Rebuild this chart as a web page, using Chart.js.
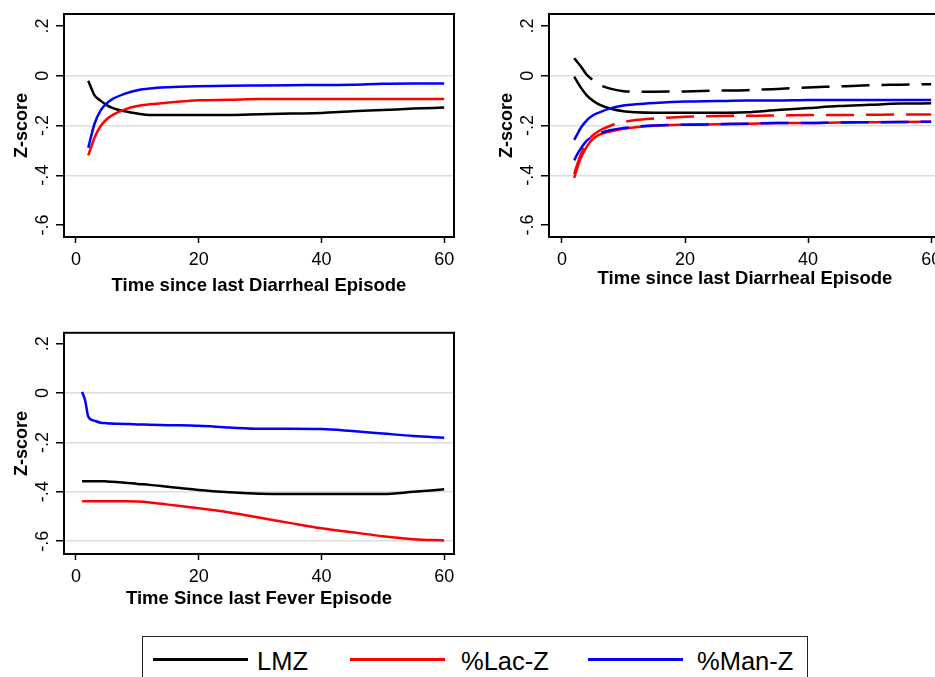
<!DOCTYPE html>
<html><head><meta charset="utf-8">
<script src="https://cdn.jsdelivr.net/npm/chart.js@4.4.1/dist/chart.umd.min.js"></script>
<style>
html,body{margin:0;padding:0;background:#fff;}
body{width:935px;height:677px;overflow:hidden;position:relative;font-family:'Liberation Sans',Arial,sans-serif;}
.panel{position:absolute;}
#legendBox{position:absolute;left:142px;top:636px;width:666px;height:70px;border:1.5px solid #222;box-sizing:border-box;}
.lgLine{position:absolute;height:3px;top:658px;width:95px;}
.lgText{position:absolute;top:648px;font-size:25.5px;line-height:26px;color:#000;white-space:nowrap;}
</style>
</head><body>
<div class="panel" style="left:0;top:0;"><canvas id="c1" width="470" height="310"></canvas></div>
<div class="panel" style="left:485px;top:0;"><canvas id="c2" width="480" height="310"></canvas></div>
<div class="panel" style="left:0;top:320px;"><canvas id="c3" width="470" height="300"></canvas></div>
<div id="legendBox"></div>
<div class="lgLine" style="left:153px;background:#000;"></div>
<span class="lgText" style="left:257px;">LMZ</span>
<div class="lgLine" style="left:350px;background:#ff0000;"></div>
<span class="lgText" style="left:461px;">%Lac-Z</span>
<div class="lgLine" style="left:588px;background:#0000ff;"></div>
<span class="lgText" style="left:697px;">%Man-Z</span>
<script>
// ---------- data ----------
const yTickValues = [0.2, 0, -0.2, -0.4, -0.6];
const xTickValues = [0, 20, 40, 60];

// Panel 1: time since last diarrheal episode
const p1Time = [2,2.5,3,4,5,6,8,10,12,15,20,25,30,35,40,45,50,55,60];
const p1LMZ  = [-0.02,-0.05,-0.078,-0.1,-0.118,-0.13,-0.143,-0.152,-0.158,-0.158,-0.158,-0.158,-0.155,-0.152,-0.15,-0.143,-0.138,-0.132,-0.128];
const p1Lac  = [-0.32,-0.285,-0.25,-0.203,-0.175,-0.157,-0.135,-0.122,-0.115,-0.108,-0.099,-0.097,-0.094,-0.094,-0.094,-0.094,-0.094,-0.094,-0.094];
const p1Man  = [-0.29,-0.24,-0.195,-0.14,-0.111,-0.093,-0.072,-0.058,-0.051,-0.046,-0.042,-0.04,-0.039,-0.038,-0.037,-0.036,-0.032,-0.031,-0.031];

// Panel 2: time since last diarrheal episode (solid and dashed curves)
const p2Time      = [2,2.5,3,4,5,6,8,10,12,15,20,25,30,35,40,45,50,55,60];
const p2LMZ       = [-0.004,-0.025,-0.045,-0.078,-0.1,-0.115,-0.133,-0.143,-0.147,-0.149,-0.149,-0.149,-0.147,-0.138,-0.13,-0.122,-0.117,-0.112,-0.111];
const p2LMZDash   = [0.07,0.055,0.04,0.005,-0.017,-0.035,-0.053,-0.062,-0.064,-0.064,-0.063,-0.06,-0.058,-0.053,-0.047,-0.043,-0.038,-0.036,-0.034];
const p2Lac       = [-0.41,-0.37,-0.335,-0.287,-0.255,-0.238,-0.223,-0.213,-0.207,-0.201,-0.197,-0.195,-0.193,-0.19,-0.19,-0.188,-0.187,-0.186,-0.185];
const p2LacDash   = [-0.395,-0.355,-0.32,-0.27,-0.24,-0.222,-0.2,-0.186,-0.178,-0.172,-0.165,-0.162,-0.161,-0.16,-0.158,-0.158,-0.157,-0.156,-0.156];
const p2Man       = [-0.258,-0.235,-0.212,-0.18,-0.16,-0.148,-0.13,-0.12,-0.115,-0.11,-0.104,-0.102,-0.1,-0.1,-0.098,-0.098,-0.098,-0.098,-0.098];
const p2ManDash   = [-0.34,-0.315,-0.295,-0.262,-0.245,-0.233,-0.218,-0.21,-0.205,-0.2,-0.197,-0.195,-0.193,-0.19,-0.19,-0.188,-0.187,-0.186,-0.185];

// Panel 3: time since last fever episode
const p3Time = [1,1.5,2,3,4,5,8,10,12,15,20,25,30,35,40,45,50,55,60];
const p3LMZ  = [-0.357,-0.357,-0.357,-0.357,-0.357,-0.358,-0.363,-0.368,-0.372,-0.38,-0.393,-0.402,-0.408,-0.409,-0.409,-0.409,-0.409,-0.4,-0.39];
const p3Lac  = [-0.438,-0.438,-0.438,-0.438,-0.438,-0.438,-0.438,-0.439,-0.443,-0.452,-0.467,-0.484,-0.505,-0.527,-0.548,-0.564,-0.58,-0.592,-0.597];
const p3Man  = [0.005,-0.03,-0.095,-0.112,-0.12,-0.122,-0.125,-0.127,-0.128,-0.13,-0.133,-0.14,-0.145,-0.145,-0.146,-0.154,-0.164,-0.174,-0.181];

// ---------- chart helpers ----------
Chart.defaults.font.family = "'Liberation Sans', Arial, sans-serif";
Chart.defaults.color = '#000';
const BLACK = '#000000', RED = '#ff0000', BLUE = '#0000ff';

function pts(t, v){ return t.map((x,i)=>({x:x, y:v[i]})); }
function ds(t, v, color, dashed, order){
  return {data: pts(t, v), borderColor: color, borderWidth: 2.5, pointRadius: 0,
          borderDash: dashed ? [28, 12] : [], cubicInterpolationMode: 'monotone',
          fill: false, order: order};
}
function fmtY(v){
  if (Math.abs(v) < 1e-9) return '0';
  return (v < 0 ? '-' : '') + String(Math.abs(v)).replace(/^0/, '');
}
const boxPlugin = {id:'box', afterDraw(chart){
  const {ctx, chartArea:a} = chart;
  ctx.save(); ctx.strokeStyle = '#000'; ctx.lineWidth = 2;
  ctx.strokeRect(a.left, a.top, a.right - a.left, a.bottom - a.top);
  ctx.restore();
}};

function makeChart(id, datasets, o){
  return new Chart(document.getElementById(id), {
    type: 'line',
    data: {datasets: datasets},
    plugins: [boxPlugin],
    options: {
      responsive: false, animation: false, devicePixelRatio: 1,
      layout: {padding: {left: 0, top: o.top, right: o.right, bottom: 0}},
      plugins: {legend: {display: false}, tooltip: {enabled: false}},
      scales: {
        x: {
          type: 'linear', min: o.xmin, max: o.xmax,
          afterBuildTicks: s => { s.ticks = xTickValues.map(v => ({value: v})); },
          afterFit: s => { s.height = o.xh; },
          grid: {drawOnChartArea: false, tickLength: 6, tickColor: '#000', tickWidth: 1.5},
          border: {display: false},
          ticks: {font: {size: 18}, padding: o.xtp, maxRotation: 0, autoSkip: false,
                  callback: v => String(v)},
          title: {display: true, text: o.xtitle, font: {size: 18.5, weight: 'bold'},
                  padding: {top: 0, bottom: o.xtitlePad}}
        },
        y: {
          type: 'linear', min: o.ymin, max: o.ymax,
          afterBuildTicks: s => { s.ticks = yTickValues.map(v => ({value: v})); },
          afterFit: s => { s.width = 64; },
          grid: {
            drawOnChartArea: true, tickLength: 8, tickColor: '#000', tickWidth: 1.5,
            color: c => (c.tick && o.grid.some(g => Math.abs(g - c.tick.value) < 1e-9)) ? '#dddddd' : 'rgba(0,0,0,0)',
            lineWidth: 1.5
          },
          border: {display: false},
          ticks: {font: {size: 18}, minRotation: 90, maxRotation: 90, crossAlign: 'center',
                  padding: 2, autoSkip: false, callback: v => fmtY(v)},
          title: {display: true, text: 'Z-score', font: {size: 18, weight: 'bold'},
                  padding: {top: 11, bottom: 0}}
        }
      }
    }
  });
}

makeChart('c1', [
  ds(p1Time, p1LMZ, BLACK, false, 3),
  ds(p1Time, p1Lac, RED, false, 2),
  ds(p1Time, p1Man, BLUE, false, 1)
], {top: 14, right: 16, xh: 73, xmin: -1.95, xmax: 61.6, ymin: -0.648, ymax: 0.248,
    xtp: 6, xtitlePad: 13, grid: [0, -0.2, -0.4], xtitle: 'Time since last Diarrheal Episode'});

makeChart('c2', [
  ds(p2Time, p2LMZDash, BLACK, true, 6),
  ds(p2Time, p2LMZ, BLACK, false, 5),
  ds(p2Time, p2LacDash, RED, true, 4),
  ds(p2Time, p2Lac, RED, false, 3),
  ds(p2Time, p2Man, BLUE, false, 2),
  ds(p2Time, p2ManDash, BLUE, true, 1)
], {top: 14, right: 24, xh: 73, xmin: -2.1, xmax: 61.6, ymin: -0.648, ymax: 0.248,
    xtp: 6, xtitlePad: 20, grid: [0, -0.2, -0.4], xtitle: 'Time since last Diarrheal Episode'});

makeChart('c3', [
  ds(p3Time, p3LMZ, BLACK, false, 3),
  ds(p3Time, p3Lac, RED, false, 2),
  ds(p3Time, p3Man, BLUE, false, 1)
], {top: 12, right: 16, xh: 66, xmin: -1.95, xmax: 61.6, ymin: -0.652, ymax: 0.244,
    xtp: 6, xtitlePad: 10, grid: [0, -0.2, -0.4, -0.6], xtitle: 'Time Since last Fever Episode'});
</script>
</body></html>
